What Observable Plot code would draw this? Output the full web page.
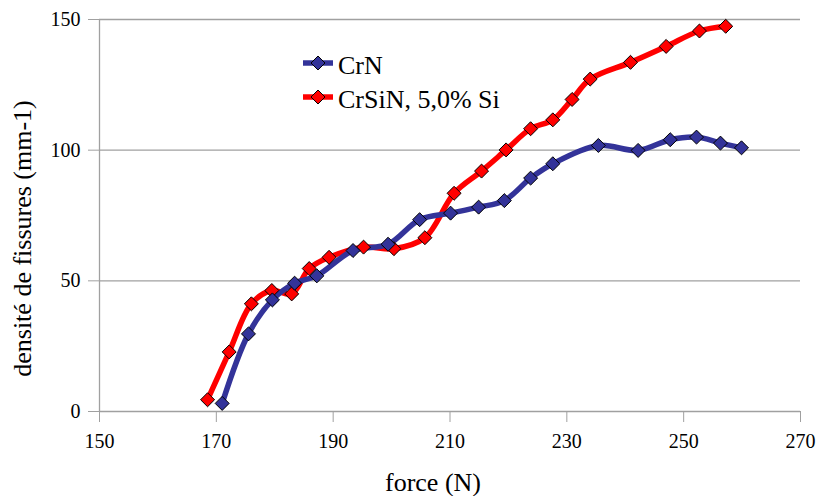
<!DOCTYPE html>
<html>
<head>
<meta charset="utf-8">
<script src="https://cdn.jsdelivr.net/npm/d3@7"></script>
<script src="https://cdn.jsdelivr.net/npm/@observablehq/plot@0.6"></script>
<style>
  html, body { margin: 0; padding: 0; background: #fff; }
  #wrap { position: relative; width: 818px; height: 496px; }
  #legend { position: absolute; left: 0; top: 0; }
</style>
</head>
<body>
<div id="wrap"></div>
<script>
// ---- data ----
const crnForce   = [171.0, 175.5, 179.6, 183.4, 187.2, 193.4, 199.4, 204.8, 210.1, 214.9, 219.3, 223.8, 227.6, 235.4, 242.2, 247.7, 252.2, 256.3, 259.9];
const crnDensity = [3.1, 29.7, 42.7, 49.1, 51.9, 61.6, 64.0, 73.4, 75.9, 78.2, 80.7, 89.3, 94.8, 101.8, 99.9, 104.0, 105.0, 102.7, 100.9];
const crsinForce   = [168.5, 172.2, 176.0, 179.5, 182.9, 185.9, 189.3, 195.2, 200.4, 205.7, 210.7, 215.4, 219.6, 223.8, 227.6, 230.9, 234.0, 240.9, 247.0, 252.7, 257.2];
const crsinDensity = [4.5, 22.8, 41.2, 46.3, 45.0, 54.7, 59.0, 62.9, 62.3, 66.5, 83.5, 92.0, 100.1, 108.2, 111.6, 119.4, 127.2, 133.6, 139.7, 145.6, 147.4];
const seriesNames = ["CrN", "CrSiN, 5,0% Si"];
const seriesColors = ["#333399", "#FF0000"];
const xTicks = [150, 170, 190, 210, 230, 250, 270];
const yTicks = [0, 50, 100, 150];
const xTitle = "force (N)";
const yTitle = "densité de fissures (mm-1)";

const crn = crnForce.map((f, i) => ({force: f, density: crnDensity[i]}));
const crsin = crsinForce.map((f, i) => ({force: f, density: crsinDensity[i]}));

const FONT = "'Liberation Serif', 'Times New Roman', serif";
const GRID = "#a0a0a0";

const chart = Plot.plot({
  width: 818,
  height: 496,
  marginLeft: 99,
  marginRight: 18,
  marginTop: 19,
  marginBottom: 85,
  style: {fontFamily: FONT, fontSize: "20px", color: "black", background: "white"},
  x: {domain: [150, 270]},
  y: {domain: [0, 150]},
  marks: [
    Plot.gridY(yTicks.filter(d => d > 0), {stroke: GRID, strokeOpacity: 1, strokeWidth: 1.3}),
    Plot.ruleX([150], {stroke: GRID, strokeWidth: 1.3}),
    Plot.ruleY([0], {stroke: GRID, strokeWidth: 1.3}),
    Plot.axisX({ticks: xTicks, tickSize: 11, tickPadding: 11, stroke: GRID, strokeOpacity: 1, color: "black", fontSize: 20, label: null, tickFormat: d => String(d)}),
    Plot.axisY({ticks: yTicks, tickSize: 11, tickPadding: 8, stroke: GRID, strokeOpacity: 1, color: "black", fontSize: 20, label: null, tickFormat: d => String(d)}),
    Plot.line(crsin, {x: "force", y: "density", stroke: seriesColors[1], strokeWidth: 5.5, curve: "catmull-rom"}),
    Plot.line(crn, {x: "force", y: "density", stroke: seriesColors[0], strokeWidth: 5.5, curve: "catmull-rom"}),
    Plot.dot(crsin, {x: "force", y: "density", symbol: "diamond2", r: 6.3, fill: seriesColors[1], stroke: "black", strokeWidth: 1}),
    Plot.dot(crn, {x: "force", y: "density", symbol: "diamond2", r: 6.3, fill: seriesColors[0], stroke: "black", strokeWidth: 1}),
    Plot.text([xTitle], {text: d => d, frameAnchor: "bottom", textAnchor: "middle", lineAnchor: "middle", dx: -17, dy: 71, fontSize: 26, fill: "black"}),
    Plot.text([yTitle], {text: d => d, frameAnchor: "left", textAnchor: "middle", lineAnchor: "middle", rotate: -90, dx: -77, dy: 23, fontSize: 26, fill: "black"})
  ]
});

const wrap = document.getElementById("wrap");
wrap.appendChild(chart);

// ---- legend (overlay) ----
const leg = d3.select(wrap).append("svg")
  .attr("id", "legend")
  .attr("width", 818).attr("height", 496)
  .style("pointer-events", "none");
const sym = d3.symbol(d3.symbolDiamond2, Math.PI * 6.3 * 6.3);
seriesNames.forEach((name, i) => {
  const cy = 63 + i * 34;
  const g = leg.append("g");
  g.append("line").attr("x1", 303).attr("x2", 333).attr("y1", cy).attr("y2", cy)
    .attr("stroke", seriesColors[i]).attr("stroke-width", 5.5);
  g.append("path").attr("d", sym()).attr("transform", `translate(318,${cy})`)
    .attr("fill", seriesColors[i]).attr("stroke", "black").attr("stroke-width", 1);
  g.append("text").attr("x", 338).attr("y", cy + 10.5)
    .attr("font-family", FONT).attr("font-size", 26).attr("fill", "black")
    .text(name);
});
</script>
</body>
</html>
